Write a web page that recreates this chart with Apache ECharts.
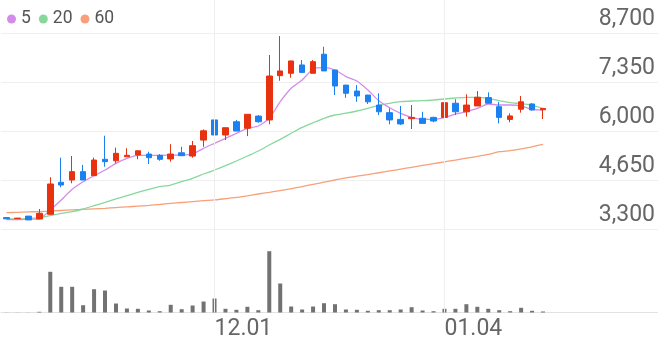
<!DOCTYPE html>
<html>
<head>
<meta charset="utf-8">
<script src="https://cdn.jsdelivr.net/npm/echarts@6/dist/echarts.min.js"></script>
<style>
html,body{margin:0;padding:0;background:#fff;}
#c{width:658px;height:342px;}
</style>
</head>
<body>
<div id="c"></div>
<script>
// Trading dates (MM.DD); last 10 are empty future slots on the axis
const dates = ['11.04','11.05','11.06','11.09','11.10','11.11','11.12','11.13','11.16','11.17',
  '11.18','11.19','11.20','11.23','11.24','11.25','11.26','11.27','11.30','12.01',
  '12.02','12.03','12.04','12.07','12.08','12.09','12.10','12.11','12.14','12.15',
  '12.16','12.17','12.18','12.21','12.22','12.23','12.24','12.28','12.29','12.30',
  '01.04','01.05','01.06','01.07','01.08','01.11','01.12','01.13','01.14','01.15',
  '01.18','01.19','01.20','01.21','01.22','01.25','01.26','01.27','01.28','01.29'];
const xTickLabels = ['12.01','01.04'];
const priceTicks = [3300, 4650, 6000, 7350, 8700];

const opens  = [3615,3585,3655,3575,3705,4587,4650,4880,4770,5220,5180,5290,5340,5365,5330,5230,5400,5310,5750,6305,
                5890,6255,6075,6410,6305,7525,7590,7820,7590,8115,7680,7265,7100,6990,6715,6505,6320,6340,6350,6375,
                6375,6765,6530,6690,6920,6670,6320,6600,6745,6585];
const closes = [3580,3600,3550,3733,4540,4512,4880,4650,5200,5155,5385,5330,5455,5265,5220,5365,5320,5595,6005,5890,
                6090,6000,6460,6255,7515,7655,7930,7615,7910,7655,7240,7040,6965,6805,6530,6305,6195,6375,6210,6275,
                6780,6530,6715,6930,6765,6375,6415,6805,6580,6620];
const lows   = [3575,3580,3550,3570,3700,4450,4560,4650,4765,5015,5110,5290,5220,5090,5180,5155,5320,5265,5565,5800,
                5750,6000,5860,6230,6185,7385,7470,7615,7590,7655,6990,6915,6805,6745,6440,6185,6165,6055,6210,6240,
                6240,6440,6395,6690,6765,6210,6240,6505,6560,6330];
const highs  = [3620,3605,3660,3850,4725,5265,5310,5065,5265,5870,5540,5525,5460,5430,5365,5635,5565,5725,6045,6690,
                6095,6305,6465,6440,8095,8615,7935,7955,7955,8320,7685,7270,7265,6995,7040,6625,6690,6715,6530,6395,
                6825,6875,7010,7100,7065,6805,6485,6965,6765,6620];

const ma5  = [3560,3560,3570,3580,3823,4100,4393,4600,4768,4925,5110,5247,5330,5330,5330,5335,5339,5366,5523,5661,
              5799,5937,6074,6138,6350,6807,7176,7405,7708,7745,7680,7500,7377,7130,6835,6642,6487,6377,6322,6322,
              6367,6468,6532,6625,6744,6716,6716,6689,6597,6578];
const ma20 = [3575,3575,3590,3611,3667,3733,3777,3851,3942,4035,4127,4218,4311,4393,4466,4512,4604,4697,4815,4925,
              5044,5173,5311,5449,5614,5771,5937,6101,6229,6350,6441,6490,6551,6625,6708,6763,6807,6826,6835,6854,
              6882,6909,6928,6928,6900,6835,6780,6752,6708,6625];
const ma60 = [3750,3760,3770,3780,3795,3810,3825,3840,3855,3870,3890,3910,3930,3950,3975,4005,4030,4055,4080,4100,
              4135,4170,4215,4264,4310,4360,4410,4470,4530,4590,4650,4710,4755,4800,4850,4900,4950,5000,5050,5100,
              5150,5200,5250,5300,5355,5430,5460,5510,5565,5630];

const volumes = [1,1,1,7,407,257,257,73,233,220,90,40,37,20,13,77,33,70,110,140,
                 37,27,57,23,613,290,60,30,60,93,83,30,27,17,23,23,30,53,20,13,
                 37,37,83,57,37,23,13,47,17,10];

const UP = '#e8310f', DOWN = '#1b80f0';
const FONT = 'Roboto';

const candleData = opens.map((o, i) => [o, closes[i], lows[i], highs[i]]);

const chart = echarts.init(document.getElementById('c'), null, {renderer: 'canvas'});
chart.setOption({
  animation: false,
  backgroundColor: '#ffffff',
  legend: {
    data: ['5', '20', '60'],
    left: 2, top: 5,
    icon: 'circle', itemWidth: 9, itemHeight: 9, itemGap: 8,
    selectedMode: false,
    textStyle: {fontFamily: FONT, fontSize: 17.5, color: '#555'}
  },
  grid: [
    {left: 1, right: 0, top: 33, height: 196},
    {left: 1, right: 0, top: 240, height: 72.5},
    {left: 1, right: 0, top: 0, height: 312.5}
  ],
  xAxis: [
    {type: 'category', gridIndex: 0, data: dates, boundaryGap: true, show: false},
    {type: 'category', gridIndex: 1, data: dates, boundaryGap: true,
     axisLine: {show: true, lineStyle: {color: '#e2e2e2', width: 1}},
     axisTick: {show: false},
     splitLine: {show: false},
     axisLabel: {
       interval: (idx, val) => xTickLabels.includes(val),
       align: 'left', margin: 5,
       fontFamily: FONT, fontSize: 23, color: '#666'
     }},
    {type: 'category', gridIndex: 2, data: dates, boundaryGap: true, show: false}
  ],
  yAxis: [
    {type: 'value', gridIndex: 0, position: 'right', min: priceTicks[0], max: priceTicks[priceTicks.length - 1], interval: 1350,
     axisLine: {show: false}, axisTick: {show: false},
     splitLine: {show: true, lineStyle: {color: '#efefef', width: 1}},
     axisLabel: {
       inside: true, margin: 3,
       fontFamily: FONT, fontSize: 23, color: '#666',
       verticalAlign: 'bottom', lineHeight: 27,
       formatter: v => v.toLocaleString('en-US')
     }},
    {type: 'value', gridIndex: 1, min: 0, max: 725, show: false, splitLine: {show: false}},
    {type: 'value', gridIndex: 2, min: 0, max: 1, show: false, splitLine: {show: false}}
  ],
  series: [
    {
      name: 'grid-v', type: 'line', xAxisIndex: 2, yAxisIndex: 2, data: dates.map(() => '-'),
      silent: true, z: 0,
      markLine: {
        silent: true, symbol: 'none', animation: false,
        label: {show: false},
        lineStyle: {color: '#efefef', width: 1, type: 'solid'},
        data: xTickLabels.map(d => ({xAxis: d}))
      }
    },
    {name: '60', type: 'line', xAxisIndex: 0, yAxisIndex: 0, data: ma60, showSymbol: false, symbol: 'none',
     smooth: 0.2, color: '#f7a07a', lineStyle: {width: 1.3, color: '#f7a07a'}, z: 3},
    {name: '20', type: 'line', xAxisIndex: 0, yAxisIndex: 0, data: ma20, showSymbol: false, symbol: 'none',
     smooth: 0.2, color: '#88d89c', lineStyle: {width: 1.3, color: '#88d89c'}, z: 3},
    {name: '5', type: 'line', xAxisIndex: 0, yAxisIndex: 0, data: ma5, showSymbol: false, symbol: 'none',
     smooth: 0.2, color: '#d38de9', lineStyle: {width: 1.3, color: '#d38de9'}, z: 3},
    {
      name: 'price', type: 'candlestick', xAxisIndex: 0, yAxisIndex: 0, data: candleData,
      barWidth: 6, z: 4,
      itemStyle: {color: UP, color0: DOWN, borderColor: UP, borderColor0: DOWN, borderWidth: 1}
    },
    {
      name: 'volume', type: 'bar', xAxisIndex: 1, yAxisIndex: 1, data: volumes,
      barWidth: 4, itemStyle: {color: '#727272'}
    }
  ]
});
</script>
</body>
</html>
